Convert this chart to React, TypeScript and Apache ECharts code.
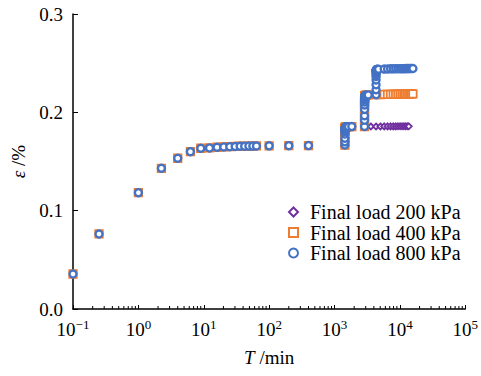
import React, { useEffect, useRef } from "react";
import * as echarts from "echarts";

// Stage 1 (common to all three tests)
const stage1T = [0.1, 0.25, 1, 2.25, 4, 6.25, 9, 12.25, 16, 20.25, 25, 30.25, 36, 42.25, 49, 56.25, 64, 100, 200, 400, 1440];
const stage1E = [0.0356, 0.0763, 0.1183, 0.1431, 0.1533, 0.16, 0.1635, 0.1638, 0.1645, 0.1648, 0.1651, 0.1653, 0.1655, 0.1656, 0.1657, 0.1657, 0.1658, 0.1659, 0.1661, 0.1662, 0.1668];
// Stage 2 (common)
const stage2T = [1440.1, 1440.25, 1441, 1442.25, 1444, 1446.25, 1449, 1452.25, 1456, 1460.25, 1465, 1470.25, 1476, 1482.25, 1489, 1496.25, 1504, 1540, 1640, 1840, 2880];
const stage2E = [0.17, 0.1736, 0.178, 0.1804, 0.1818, 0.1828, 0.1835, 0.184, 0.1843, 0.1845, 0.1847, 0.1848, 0.1849, 0.185, 0.1851, 0.1851, 0.1852, 0.1853, 0.1854, 0.1855, 0.1856];
// Final load 200 kPa tail
const tail200T = [3600, 4320, 5040, 5760, 6480, 7200, 7920, 8640, 9360, 10080, 10800, 11520, 12240, 12960, 13680];
const tail200E = [0.1856, 0.1856, 0.1856, 0.1857, 0.1857, 0.1857, 0.1857, 0.1857, 0.1858, 0.1858, 0.1858, 0.1858, 0.1858, 0.1858, 0.1858];
// Stage 3 (400 & 800 kPa)
const stage3T = [2880.1, 2880.25, 2881, 2882.25, 2884, 2886.25, 2889, 2892.25, 2896, 2900.25, 2905, 2910.25, 2916, 2922.25, 2929, 2936.25, 2944, 2980, 3080, 3280, 4320];
const stage3E = [0.192, 0.1965, 0.203, 0.2075, 0.2105, 0.2125, 0.2138, 0.2147, 0.2153, 0.2158, 0.2161, 0.2164, 0.2166, 0.2168, 0.2169, 0.217, 0.2171, 0.2173, 0.2175, 0.2177, 0.218];
// Final load 400 kPa tail
const tail400T = [5040, 5760, 6480, 7200, 7920, 8640, 9360, 10080, 10800, 11520, 12240, 12960, 13680, 14400, 15120, 15840];
const tail400E = [0.2181, 0.2182, 0.2183, 0.2183, 0.2184, 0.2184, 0.2185, 0.2185, 0.2186, 0.2186, 0.2186, 0.2187, 0.2187, 0.2187, 0.2188, 0.2188];
// Stage 4 (800 kPa)
const stage4T = [4320.1, 4320.25, 4321, 4322.25, 4324, 4326.25, 4329, 4332.25, 4336, 4340.25, 4345, 4350.25, 4356, 4362.25, 4369, 4376.25, 4384, 4420, 4520, 4720, 5760];
const stage4E = [0.223, 0.228, 0.233, 0.2365, 0.2385, 0.24, 0.241, 0.2417, 0.2422, 0.2425, 0.2428, 0.243, 0.2431, 0.2432, 0.2433, 0.2434, 0.2435, 0.2436, 0.2437, 0.2438, 0.244];
const tail800T = [6480, 7200, 7920, 8640, 9360, 10080, 10800, 11520, 12240, 12960, 13680, 14400, 15120, 15840];
const tail800E = [0.2441, 0.2442, 0.2442, 0.2443, 0.2443, 0.2444, 0.2444, 0.2444, 0.2445, 0.2445, 0.2445, 0.2446, 0.2446, 0.2446];

const seriesNames = ["Final load 200 kPa", "Final load 400 kPa", "Final load 800 kPa"];
const xTickExponents = ["−1", "0", "1", "2", "3", "4", "5"];

const pairs = (ts: number[], es: number[]) => ts.map((t, i) => [t, es[i]]);

const FONT = "Times New Roman";
const FS = 19;

export default function App() {
  const ref = useRef<HTMLDivElement>(null);
  useEffect(() => {
    if (!ref.current) return;
    const chart = echarts.init(ref.current, undefined, { renderer: "svg" });

    const d200 = [...pairs(stage1T, stage1E), ...pairs(stage2T, stage2E), ...pairs(tail200T, tail200E)];
    const d400 = [...pairs(stage1T, stage1E), ...pairs(stage2T, stage2E), ...pairs(stage3T, stage3E), ...pairs(tail400T, tail400E)];
    const d800 = [...pairs(stage1T, stage1E), ...pairs(stage2T, stage2E), ...pairs(stage3T, stage3E), ...pairs(stage4T, stage4E), ...pairs(tail800T, tail800E)];

    const minorTicks: number[][] = [];
    for (let k = -1; k < 5; k++) {
      for (let m = 2; m <= 9; m++) minorTicks.push([m * Math.pow(10, k), 0]);
    }

    chart.setOption({
      animation: false,
      textStyle: { fontFamily: FONT },
      grid: { left: 73, right: 13, top: 14, bottom: 67 },
      xAxis: {
        type: "log",
        logBase: 10,
        min: 0.1,
        max: 100000,
        name: "{i|T} /min",
        nameLocation: "middle",
        nameGap: 39,
        nameTextStyle: {
          fontFamily: FONT,
          fontSize: FS,
          color: "#000",
          rich: { i: { fontStyle: "italic", fontFamily: FONT, fontSize: FS, color: "#000" } },
        },
        axisLine: { lineStyle: { color: "#000", width: 1.5 } },
        axisTick: { inside: true, length: 4, lineStyle: { color: "#000", width: 1 } },
        splitLine: { show: false },
        axisLabel: {
          margin: 9,
          formatter: (v: number) => {
            const e = Math.round(Math.log10(v));
            return "{b|10}{s|" + xTickExponents[e + 1] + "}";
          },
          rich: {
            b: { fontFamily: FONT, fontSize: FS, color: "#000", lineHeight: 22 },
            s: { fontFamily: FONT, fontSize: 13, color: "#000", verticalAlign: "top", lineHeight: 13 },
          },
        },
      },
      yAxis: {
        type: "value",
        min: 0,
        max: 0.3,
        interval: 0.1,
        name: "{i|ε} /%",
        nameLocation: "middle",
        nameGap: 40,
        nameTextStyle: {
          fontFamily: FONT,
          fontSize: FS,
          color: "#000",
          rich: { i: { fontStyle: "italic", fontFamily: FONT, fontSize: FS, color: "#000" } },
        },
        axisLine: { show: true, lineStyle: { color: "#000", width: 1.5 } },
        axisTick: { show: true, inside: true, length: 5, lineStyle: { color: "#000", width: 1 } },
        splitLine: { show: false },
        axisLabel: {
          margin: 10,
          fontFamily: FONT,
          fontSize: FS,
          color: "#000",
          formatter: (v: number) => v.toFixed(1),
        },
      },
      legend: {
        data: [
          { name: seriesNames[0], icon: "diamond" },
          { name: seriesNames[1], icon: "rect" },
          { name: seriesNames[2], icon: "circle" },
        ],
        orient: "vertical",
        left: 283,
        top: 197,
        itemWidth: 9,
        itemHeight: 9,
        itemGap: 0.5,
        textStyle: { fontFamily: FONT, fontSize: 20, lineHeight: 20, color: "#000", padding: [0, 0, 0, 7] },
      },
      series: [
        {
          type: "custom",
          silent: true,
          clip: false,
          data: minorTicks,
          renderItem: (params: any, api: any) => {
            const p = api.coord([api.value(0), 0]);
            return {
              type: "line",
              shape: { x1: p[0], y1: p[1], x2: p[0], y2: p[1] - 3 },
              style: { stroke: "#000", lineWidth: 1 },
            };
          },
        },
        {
          name: seriesNames[0],
          type: "scatter",
          symbol: "diamond",
          symbolSize: 6,
          data: d200,
          itemStyle: { color: "#fff", borderColor: "#7030A0", borderWidth: 1.8, opacity: 1 },
        },
        {
          name: seriesNames[1],
          type: "scatter",
          symbol: "rect",
          symbolSize: 7.5,
          data: d400,
          itemStyle: { color: "#fff", borderColor: "#ED7D31", borderWidth: 1.8, opacity: 1 },
        },
        {
          name: seriesNames[2],
          type: "scatter",
          symbol: "circle",
          symbolSize: 7,
          data: d800,
          itemStyle: { color: "#fff", borderColor: "#4472C4", borderWidth: 2.4, opacity: 1 },
        },
      ],
    });
    return () => chart.dispose();
  }, []);
  return <div ref={ref} style={{ width: 481, height: 376, position: "absolute", left: 0, top: 0 }} />;
}
